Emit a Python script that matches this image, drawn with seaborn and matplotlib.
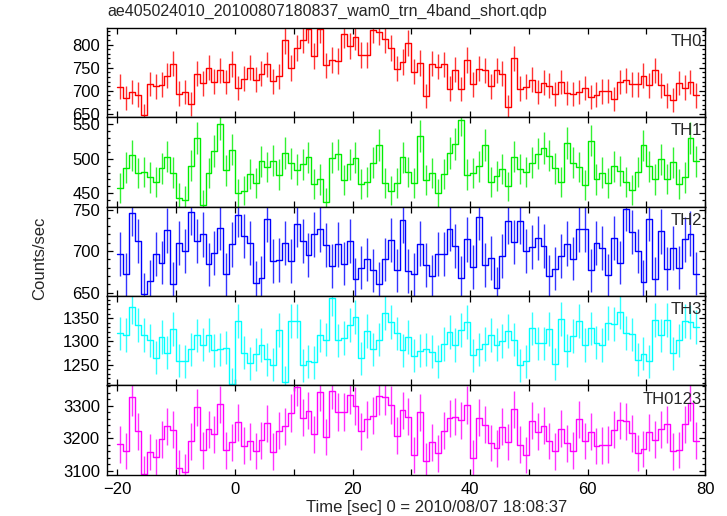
import numpy as np
import pandas as pd
import matplotlib
matplotlib.use("Agg")
import matplotlib.pyplot as plt
from matplotlib.ticker import MultipleLocator
import seaborn as sns

# 1 s bins starting at t = -20 s
t_start = -20
bin_size = 1.0

th0 = [709, 685, 698, 692, 647, 715, 710, 713, 733, 759, 694, 697, 672, 737, 716, 750,
       720, 744, 719, 758, 706, 726, 750, 724, 737, 757, 721, 731, 809, 749, 793, 810,
       833, 775, 833, 755, 767, 764, 822, 796, 816, 778, 778, 832, 827, 811, 793, 748,
       762, 804, 741, 760, 689, 759, 752, 757, 705, 746, 704, 767, 714, 748, 744, 710,
       744, 737, 665, 770, 705, 709, 724, 698, 718, 711, 693, 719, 695, 693, 697, 706,
       686, 692, 699, 700, 682, 719, 723, 714, 714, 733, 712, 744, 712, 690, 681, 717,
       707, 719, 690]
th1 = [458, 487, 505, 479, 481, 473, 467, 486, 503, 480, 444, 440, 490, 530, 434, 479,
       511, 550, 483, 513, 450, 454, 478, 465, 496, 488, 497, 477, 508, 493, 484, 492,
       502, 464, 470, 437, 501, 506, 469, 492, 501, 463, 467, 494, 520, 465, 454, 465,
       502, 481, 465, 533, 469, 479, 450, 478, 508, 521, 556, 477, 479, 489, 520, 466,
       475, 485, 460, 503, 485, 481, 494, 507, 515, 504, 486, 467, 522, 494, 488, 462,
       526, 470, 480, 465, 489, 482, 466, 455, 481, 519, 489, 470, 499, 471, 495, 464,
       473, 529, 496]
th2 = [696, 672, 746, 712, 648, 664, 696, 686, 725, 661, 710, 700, 747, 712, 720, 684,
       698, 728, 672, 708, 744, 718, 710, 662, 668, 738, 688, 689, 710, 688, 732, 712,
       695, 720, 726, 707, 682, 708, 685, 712, 666, 680, 690, 677, 661, 690, 713, 677,
       737, 676, 672, 709, 683, 670, 696, 696, 727, 706, 668, 714, 681, 741, 683, 692,
       655, 694, 736, 711, 736, 700, 705, 716, 706, 670, 679, 694, 709, 691, 726, 726,
       677, 710, 704, 671, 716, 686, 751, 723, 700, 663, 739, 667, 724, 679, 704, 680,
       714, 721, 673]
th3 = [1317, 1314, 1374, 1335, 1314, 1302, 1265, 1309, 1275, 1326, 1258, 1257, 1283, 1313, 1293, 1314,
       1281, 1283, 1286, 1208, 1343, 1275, 1253, 1272, 1292, 1261, 1250, 1324, 1212, 1345, 1343, 1248,
       1257, 1255, 1313, 1304, 1393, 1302, 1307, 1335, 1352, 1263, 1323, 1283, 1304, 1361, 1341, 1317,
       1281, 1309, 1269, 1280, 1283, 1278, 1257, 1294, 1320, 1292, 1325, 1341, 1270, 1283, 1294, 1314,
       1293, 1301, 1323, 1304, 1248, 1257, 1328, 1296, 1296, 1326, 1251, 1348, 1280, 1312, 1343, 1292,
       1328, 1297, 1292, 1339, 1338, 1364, 1318, 1315, 1260, 1273, 1257, 1346, 1313, 1346, 1274, 1302,
       1344, 1341, 1331]
th0123 = [3182, 3161, 3326, 3221, 3091, 3158, 3141, 3197, 3237, 3226, 3108, 3096, 3191, 3295, 3163, 3228,
          3212, 3305, 3163, 3188, 3249, 3177, 3191, 3161, 3194, 3246, 3159, 3223, 3237, 3278, 3357, 3263,
          3285, 3212, 3342, 3204, 3347, 3281, 3281, 3332, 3299, 3221, 3258, 3269, 3330, 3328, 3303, 3208,
          3286, 3267, 3148, 3280, 3131, 3188, 3154, 3223, 3261, 3267, 3255, 3303, 3139, 3263, 3241, 3186,
          3169, 3236, 3189, 3289, 3180, 3149, 3254, 3220, 3239, 3192, 3160, 3230, 3185, 3162, 3258, 3192,
          3220, 3176, 3178, 3180, 3226, 3255, 3252, 3215, 3155, 3167, 3218, 3196, 3228, 3243, 3160, 3164,
          3243, 3310, 3193]

names = ["TH0", "TH1", "TH2", "TH3", "TH0123"]
colors = ["#ff0000", "#00ee00", "#0000ff", "#00ffff", "#ff00ff"]
ylims = [(643, 836), (431, 559.5), (646, 753.5), (1205, 1398), (3088, 3363)]
major_steps = [50, 50, 50, 50, 100]
minor_steps = [10, 10, 10, 10, 20]

sns.set_style("ticks")
plt.rcParams["font.family"] = ["Liberation Sans", "DejaVu Sans"]
plt.rcParams["xtick.direction"] = "in"
plt.rcParams["ytick.direction"] = "in"

fig = plt.figure(figsize=(7.27, 5.16), dpi=100)
left, right, top, bottom = 0.147, 0.970, 0.946, 0.080
h = (top - bottom) / 5

for i, (name, vals) in enumerate(zip(names, [th0, th1, th2, th3, th0123])):
    ax = fig.add_axes([left, top - (i + 1) * h, right - left, h])
    vals = np.asarray(vals, dtype=float)
    n = len(vals)
    edges = t_start + bin_size * np.arange(n + 1)
    centers = edges[:-1] + bin_size / 2
    # Poisson errors for 1 s bins
    err = np.sqrt(vals * bin_size) / bin_size

    df = pd.DataFrame({"t": edges, "rate": np.append(vals, vals[-1])})
    sns.lineplot(data=df, x="t", y="rate", ax=ax, color=colors[i], lw=1.0,
                 drawstyle="steps-post", estimator=None, sort=False)
    ax.errorbar(centers, vals, yerr=err, fmt="none", ecolor=colors[i], elinewidth=1.0, alpha=0.8)

    ax.set_xlim(-21.8, 80)
    ax.set_ylim(*ylims[i])
    ax.xaxis.set_major_locator(MultipleLocator(20))
    ax.xaxis.set_minor_locator(MultipleLocator(10))
    ax.yaxis.set_major_locator(MultipleLocator(major_steps[i]))
    ax.yaxis.set_minor_locator(MultipleLocator(minor_steps[i]))
    ax.tick_params(which="both", top=True, right=True, labelsize=12, width=0.9, colors="black")
    ax.tick_params(which="major", length=4, pad=5)
    ax.tick_params(which="minor", length=2)
    ax.tick_params(axis="x", which="minor", length=4)
    for s in ax.spines.values():
        s.set_linewidth(1.0)
        s.set_color("black")
    ax.set_xlabel("")
    ax.set_ylabel("")
    if i < 4:
        ax.tick_params(axis="x", labelbottom=False)
    ax.text(0.995, 0.93, name, transform=ax.transAxes, ha="right", va="top", fontsize=12)

fig.text(0.148, 0.977, "ae405024010_20100807180837_wam0_trn_4band_short.qdp",
         ha="left", va="center", fontsize=11.5)
fig.text(0.6, 0.017, "Time [sec] 0 = 2010/08/07 18:08:37", ha="center", va="center", fontsize=12)
fig.text(0.055, 0.5, "Counts/sec", rotation=90, ha="center", va="center", fontsize=12)

fig.savefig("out.png", dpi=100)
